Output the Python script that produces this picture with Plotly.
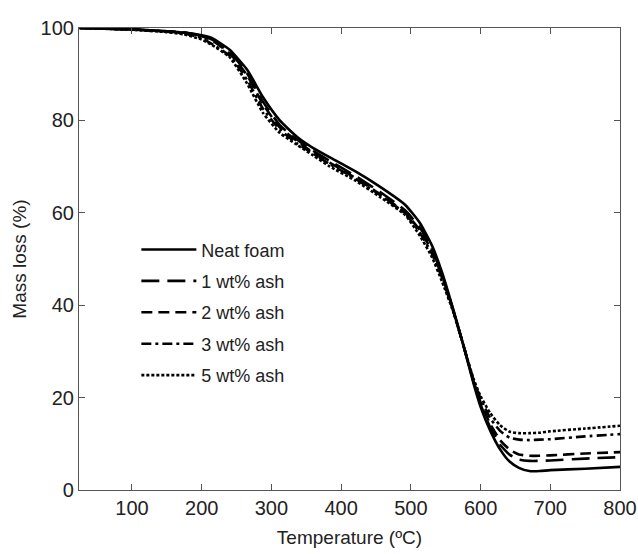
import plotly.graph_objects as go

temperature = [25, 50, 100, 150, 175, 200, 215, 240, 265, 288, 312, 337, 360, 384, 420, 456, 492,
               513, 530, 545, 561, 575, 590, 600, 614, 628, 642, 655, 670, 685, 700, 750, 800]

neat_foam = [100, 99.9, 99.7, 99.3, 99.0, 98.4, 97.8, 95.3, 91.0, 85.0, 80.0, 76.4, 74.0, 72.0, 69.0, 65.6, 61.7,
             57.8, 53.0, 47.0, 39.0, 31.5, 23.0, 18.0, 12.8, 8.8, 6.1, 4.8, 4.1, 4.1, 4.3, 4.6, 5.0]
ash_1 = [100, 99.9, 99.7, 99.3, 99.0, 98.3, 97.5, 94.8, 90.2, 84.0, 79.0, 75.8, 73.4, 71.2, 68.0, 64.5, 60.5,
         56.8, 52.2, 46.5, 38.8, 31.5, 23.3, 18.5, 13.5, 9.8, 7.6, 6.6, 6.3, 6.3, 6.4, 6.8, 7.1]
ash_2 = [100, 99.9, 99.7, 99.3, 99.0, 98.2, 97.3, 94.5, 89.8, 83.5, 78.5, 75.5, 73.0, 70.8, 67.6, 64.0, 60.0,
         56.2, 51.8, 46.2, 38.8, 31.5, 23.5, 19.0, 14.2, 10.8, 8.7, 7.7, 7.4, 7.4, 7.5, 7.9, 8.2]
ash_3 = [100, 99.9, 99.7, 99.2, 98.8, 97.8, 96.5, 94.0, 88.8, 82.5, 78.0, 75.0, 72.8, 70.5, 67.4, 63.8, 59.8,
         55.7, 51.2, 45.8, 38.6, 31.5, 23.8, 19.8, 15.5, 12.8, 11.3, 10.9, 10.8, 10.9, 11.0, 11.6, 12.1]
ash_5 = [100, 99.9, 99.6, 99.1, 98.6, 97.5, 96.3, 93.7, 88.0, 81.6, 77.3, 74.7, 72.4, 70.0, 67.0, 63.4, 59.5,
         55.0, 50.5, 45.0, 38.5, 31.5, 24.0, 20.3, 16.6, 14.0, 12.6, 12.3, 12.3, 12.4, 12.7, 13.3, 13.9]

series_names = ["Neat foam", "1 wt% ash", "2 wt% ash", "3 wt% ash", "5 wt% ash"]
series_values = [neat_foam, ash_1, ash_2, ash_3, ash_5]
series_dash = ["solid", "18px,8px", "11px,6px", "10px,4px,3px,4px", "3px,2px"]

x_ticks = [100, 200, 300, 400, 500, 600, 700, 800]
y_ticks = [0, 20, 40, 60, 80, 100]

FONT = "Liberation Sans, Arial, sans-serif"

fig = go.Figure()
for i, (name, vals, dash) in enumerate(zip(series_names, series_values, series_dash)):
    fig.add_trace(go.Scatter(
        x=temperature, y=vals, mode="lines", name=name, legendgroup=f"g{i}",
        line=dict(color="black", width=2.6, dash=dash, shape="spline", smoothing=0.5),
    ))

axis_common = dict(
    showline=True, linecolor="#555", linewidth=1.2, mirror="ticks",
    ticks="inside", ticklen=6, tickwidth=1.2, tickcolor="#555",
    showgrid=False, zeroline=False, automargin=False,
    tickfont=dict(family=FONT, size=20, color="#222"),
    title_font=dict(family=FONT, size=19, color="#222"),
)

fig.update_xaxes(range=[24, 800], tickvals=x_ticks, title_text="Temperature (ºC)", title_standoff=12, **axis_common)
fig.update_yaxes(range=[0, 100], tickvals=y_ticks, title_text="Mass loss (%)", title_standoff=8, **axis_common)

fig.update_layout(
    width=638, height=554,
    margin=dict(l=79, r=18, t=28, b=64),
    plot_bgcolor="white", paper_bgcolor="white",
    showlegend=True,
    legend=dict(
        x=0.106, y=0.56, xanchor="left", yanchor="top",
        bgcolor="rgba(0,0,0,0)", tracegroupgap=5, itemwidth=55,
        font=dict(family=FONT, size=18, color="#222"),
    ),
)

fig.write_html(
    "out.html",
    config={"displayModeBar": False},
    post_script="document.body.style.margin='0';document.body.style.overflow='hidden';",
)
